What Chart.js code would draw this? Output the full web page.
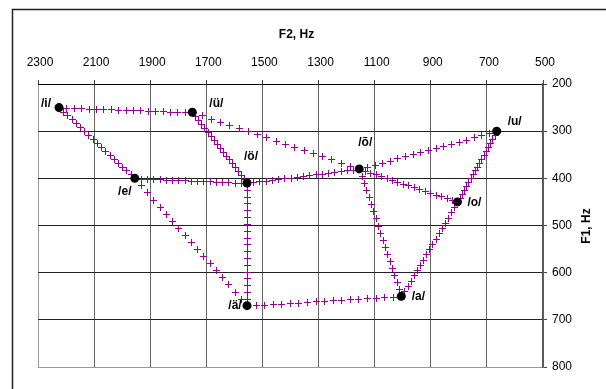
<!DOCTYPE html>
<html><head><meta charset="utf-8">
<script src="https://cdn.jsdelivr.net/npm/chart.js@4.4.1/dist/chart.umd.min.js"></script>
<style>html,body{margin:0;padding:0;background:#fff}canvas{display:block}</style>
</head><body><canvas id="c" width="606" height="389"></canvas>
<script>
// ---- data ----
const vowels = ['/i/', '/ü/', '/e/', '/ö/', '/ä/', '/õ/', '/o/', '/u/', '/a/'];
const f2Values = [2225, 1750, 1955, 1555, 1555, 1155, 805, 665, 1005];
const f1Values = [250, 260, 400, 410, 670, 380, 450, 300, 650];
const f2Ticks = [2300, 2100, 1900, 1700, 1500, 1300, 1100, 900, 700, 500];
const f1Ticks = [200, 300, 400, 500, 600, 700, 800];
const links = [
  ['/i/', '/ü/'], ['/i/', '/e/'], ['/e/', '/ö/'], ['/ü/', '/ö/'],
  ['/e/', '/ä/'], ['/ö/', '/ä/'], ['/ä/', '/a/'], ['/ü/', '/õ/'],
  ['/õ/', '/o/'], ['/ö/', '/õ/'], ['/õ/', '/u/'], ['/u/', '/o/'],
  ['/o/', '/a/'], ['/õ/', '/a/']
];
const xTitle = 'F2, Hz';
const yTitle = 'F1, Hz';

// ---- style ----
const PLUS_COLOR = '#960096';
const PLUS_STEPS = 18;
const PLUS_HALF = 3.5;
const labelOffsets = {
  '/i/': [-13, -4], '/ü/': [24, -9], '/ö/': [4, -26], '/e/': [-10, 13],
  '/ä/': [-12, 0], '/õ/': [6, -26], '/o/': [17, 1], '/u/': [18, -9], '/a/': [17, 0]
};
const FONT = '"Liberation Sans", Arial, sans-serif';

Chart.defaults.font.family = FONT;
Chart.defaults.font.size = 12;
Chart.defaults.color = '#000';

const decor = {
  id: 'decor',
  beforeDatasetsDraw(chart) {
    const ctx = chart.ctx, xs = chart.scales.x, ys = chart.scales.y;
    ctx.save();
    ctx.strokeStyle = PLUS_COLOR;
    ctx.lineWidth = 1;
    ctx.beginPath();
    links.forEach(([a, b]) => {
      const ia = vowels.indexOf(a), ib = vowels.indexOf(b);
      const x0 = xs.getPixelForValue(f2Values[ia]), y0 = ys.getPixelForValue(f1Values[ia]);
      const x1 = xs.getPixelForValue(f2Values[ib]), y1 = ys.getPixelForValue(f1Values[ib]);
      for (let k = 1; k < PLUS_STEPS; k++) {
        const t = k / PLUS_STEPS;
        const px = Math.round(x0 + (x1 - x0) * t) + 0.5;
        const py = Math.round(y0 + (y1 - y0) * t) + 0.5;
        ctx.moveTo(px - PLUS_HALF, py); ctx.lineTo(px + PLUS_HALF, py);
        ctx.moveTo(px, py - PLUS_HALF); ctx.lineTo(px, py + PLUS_HALF);
      }
    });
    ctx.stroke();
    ctx.restore();
  },
  afterDatasetsDraw(chart) {
    const ctx = chart.ctx, xs = chart.scales.x, ys = chart.scales.y;
    ctx.save();
    ctx.fillStyle = '#000';
    ctx.font = 'bold 12px ' + FONT;
    ctx.textAlign = 'center';
    ctx.textBaseline = 'middle';
    vowels.forEach((v, i) => {
      const off = labelOffsets[v];
      ctx.fillText(v, xs.getPixelForValue(f2Values[i]) + off[0], ys.getPixelForValue(f1Values[i]) + off[1]);
    });
    ctx.restore();
  },
  afterDraw(chart) {
    const ctx = chart.ctx, ca = chart.chartArea;
    ctx.save();
    // outer frame
    ctx.strokeStyle = '#222';
    ctx.lineWidth = 1.5;
    ctx.beginPath();
    ctx.moveTo(12.5, chart.height); ctx.lineTo(12.5, 9.5); ctx.lineTo(chart.width, 9.5);
    ctx.stroke();
    // titles
    ctx.fillStyle = '#000';
    ctx.font = 'bold 12px ' + FONT;
    ctx.textAlign = 'center';
    ctx.textBaseline = 'middle';
    ctx.fillText(xTitle, (ca.left + ca.right) / 2 + 6, 35);
    ctx.translate(587, 226);
    ctx.rotate(-Math.PI / 2);
    ctx.fillText(yTitle, 0, 0);
    ctx.restore();
  }
};

new Chart(document.getElementById('c'), {
  type: 'scatter',
  data: {
    datasets: [{
      data: f2Values.map((x, i) => ({ x: x, y: f1Values[i] })),
      pointRadius: 4.5,
      pointHoverRadius: 4.5,
      backgroundColor: '#000',
      borderColor: '#000',
      borderWidth: 0,
      showLine: false
    }]
  },
  options: {
    responsive: false,
    animation: false,
    events: [],
    layout: { padding: { left: 38, top: 0, right: 0, bottom: 22 } },
    plugins: { legend: { display: false }, tooltip: { enabled: false } },
    scales: {
      x: {
        type: 'linear', position: 'top', reverse: true, min: 500, max: 2300,
        afterBuildTicks: s => { s.ticks = f2Ticks.map(v => ({ value: v })); },
        afterFit: s => { s.height = 84; },
        ticks: { callback: v => String(v), maxRotation: 0, autoSkip: false, padding: 10, labelOffset: 2, font: { size: 12 } },
        grid: {
          color: c => (c.tick && c.tick.value === 2300) ? '#999' : '#666',
          tickLength: 4, tickColor: '#444', lineWidth: 1
        },
        border: { color: '#000', width: 1 }
      },
      y: {
        type: 'linear', position: 'right', reverse: true, min: 200, max: 800,
        afterBuildTicks: s => { s.ticks = f1Ticks.map(v => ({ value: v })); },
        afterFit: s => { s.width = 63; },
        ticks: { callback: v => String(v), autoSkip: false, padding: 5, font: { size: 12 } },
        grid: {
          color: c => (c.tick && c.tick.value === 800) ? '#999' : '#222',
          tickLength: 4, tickColor: '#444', lineWidth: 1
        },
        border: { color: '#555', width: 1.5 }
      }
    }
  },
  plugins: [decor]
});
</script>
</body></html>
